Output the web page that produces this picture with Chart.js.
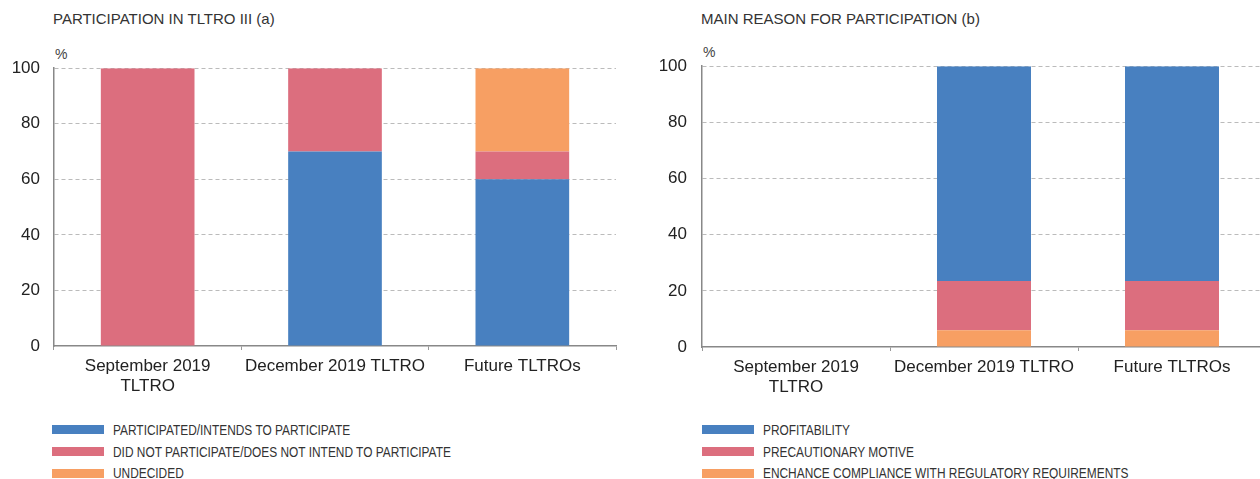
<!DOCTYPE html>
<html>
<head>
<meta charset="utf-8">
<script src="https://cdn.jsdelivr.net/npm/chart.js@4/dist/chart.umd.min.js"></script>
<style>
  body { margin: 0; background: #fff; width: 1260px; height: 479px; overflow: hidden; position: relative; font-family: "Liberation Sans", Arial, sans-serif; }
  .title { position: absolute; top: 10px; font-size: 15px; color: #333; }
  .unit { position: absolute; font-size: 14px; color: #444; }
  .box { position: absolute; }
  .legend { position: absolute; top: 419px; font-family: "Liberation Sans", Arial, sans-serif; font-size: 14px; color: #333; }
  .legend div { height: 21.7px; display: flex; align-items: center; }
  .legend span.sw { display: inline-block; width: 52px; height: 9px; margin-right: 9px; }
  .legend span.tx { display: inline-block; transform: scaleX(0.85); transform-origin: left center; white-space: nowrap; }
</style>
</head>
<body>
<div class="title" style="left:53px">PARTICIPATION IN TLTRO III (a)</div>
<div class="title" style="left:701px">MAIN REASON FOR PARTICIPATION (b)</div>
<div class="unit" style="left:55px; top:46px">%</div>
<div class="unit" style="left:703px; top:44px">%</div>
<div class="box" style="left:0; top:44px; width:630px; height:356px"><canvas id="chartA"></canvas></div>
<div class="box" style="left:640px; top:41px; width:626px; height:359px"><canvas id="chartB"></canvas></div>
<div class="legend" id="legendA" style="left:52px"></div>
<div class="legend" id="legendB" style="left:702px"></div>
<script>
const categories = [['September 2019', 'TLTRO'], 'December 2019 TLTRO', 'Future TLTROs'];

// panel (a)
const participated = [0, 70, 60];
const notParticipated = [100, 30, 10];
const undecided = [0, 0, 30];

// panel (b)
const profitability = [0, 76.5, 76.5];
const precautionary = [0, 17.5, 17.5];
const compliance = [0, 6, 6];

const yTicks = [0, 20, 40, 60, 80, 100];

const BLUE = '#4880c0';
const RED = '#dc6e7e';
const ORANGE = '#f79f63';

function makeOptions(yWidth, xHeight, right, tickPad) {
  return {
    responsive: true,
    maintainAspectRatio: false,
    animation: false,
    layout: { padding: { top: 0, right: right, left: 0, bottom: 0 } },
    plugins: { legend: { display: false }, tooltip: { enabled: false } },
    datasets: { bar: { categoryPercentage: 1, barPercentage: 0.5, borderWidth: 0 } },
    scales: {
      x: {
        stacked: true,
        afterFit: function(scale) { scale.height = xHeight; },
        grid: { offset: true, drawOnChartArea: false, drawTicks: true, tickLength: 4, color: '#999' },
        border: { display: true, color: '#888', width: 1.5 },
        ticks: { color: '#222', font: { size: 17, family: 'Liberation Sans' }, padding: 6, maxRotation: 0, autoSkip: false }
      },
      y: {
        stacked: true,
        min: 0,
        max: 100,
        afterFit: function(scale) { scale.width = yWidth; },
        afterBuildTicks: function(scale) { scale.ticks = yTicks.map(v => ({ value: v })); },
        grid: {
          drawTicks: false,
          color: function(c) { return c.tick && c.tick.value === 0 ? 'rgba(0,0,0,0)' : '#bbb'; },
          lineWidth: 1
        },
        border: { display: true, color: '#888', width: 1.5, dash: [4, 3] },
        ticks: { color: '#222', font: { size: 17, family: 'Liberation Sans' }, padding: tickPad }
      }
    }
  };
}

new Chart(document.getElementById('chartA'), {
  type: 'bar',
  data: {
    labels: categories,
    datasets: [
      { label: 'PARTICIPATED/INTENDS TO PARTICIPATE', data: participated, backgroundColor: BLUE },
      { label: 'DID NOT PARTICIPATE/DOES NOT INTEND TO PARTICIPATE', data: notParticipated, backgroundColor: RED },
      { label: 'UNDECIDED', data: undecided, backgroundColor: ORANGE }
    ]
  },
  options: makeOptions(54, 54, 14, 14)
});

new Chart(document.getElementById('chartB'), {
  type: 'bar',
  data: {
    labels: categories,
    datasets: [
      { label: 'ENCHANCE COMPLIANCE WITH REGULATORY REQUIREMENTS', data: compliance, backgroundColor: ORANGE },
      { label: 'PRECAUTIONARY MOTIVE', data: precautionary, backgroundColor: RED },
      { label: 'PROFITABILITY', data: profitability, backgroundColor: BLUE }
    ]
  },
  options: makeOptions(62, 53, 0, 15)
});

function buildLegend(id, items) {
  const el = document.getElementById(id);
  items.forEach(function(it) {
    const row = document.createElement('div');
    const sw = document.createElement('span');
    sw.className = 'sw';
    sw.style.background = it[1];
    const tx = document.createElement('span');
    tx.className = 'tx';
    tx.textContent = it[0];
    row.appendChild(sw);
    row.appendChild(tx);
    el.appendChild(row);
  });
}

buildLegend('legendA', [
  ['PARTICIPATED/INTENDS TO PARTICIPATE', BLUE],
  ['DID NOT PARTICIPATE/DOES NOT INTEND TO PARTICIPATE', RED],
  ['UNDECIDED', ORANGE]
]);
buildLegend('legendB', [
  ['PROFITABILITY', BLUE],
  ['PRECAUTIONARY MOTIVE', RED],
  ['ENCHANCE COMPLIANCE WITH REGULATORY REQUIREMENTS', ORANGE]
]);
</script>
</body>
</html>
